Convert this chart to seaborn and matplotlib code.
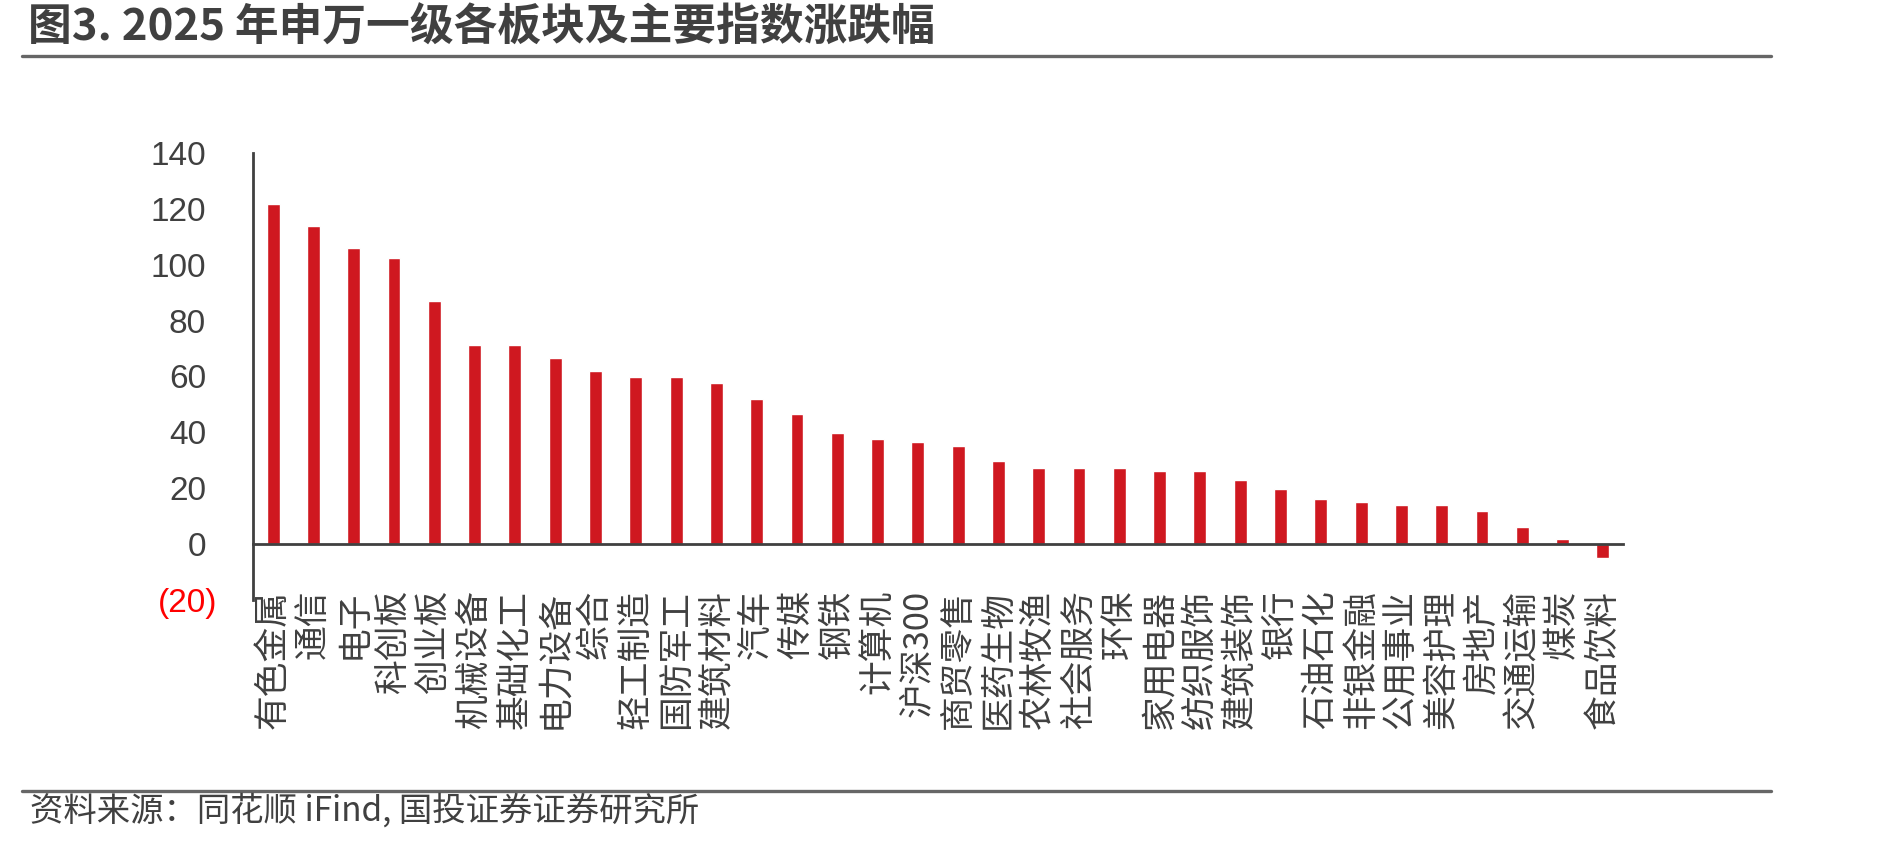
import numpy as np
import pandas as pd
import seaborn as sns
import matplotlib.pyplot as plt
import matplotlib.transforms as mtransforms
from matplotlib.lines import Line2D

# 申万一级行业及主要指数 2025 年涨跌幅（%）
sectors = [
    "有色金属", "通信", "电子", "科创板", "创业板", "机械设备", "基础化工",
    "电力设备", "综合", "轻工制造", "国防军工", "建筑材料", "汽车", "传媒",
    "钢铁", "计算机", "沪深300", "商贸零售", "医药生物", "农林牧渔",
    "社会服务", "环保", "家用电器", "纺织服饰", "建筑装饰", "银行",
    "石油石化", "非银金融", "公用事业", "美容护理", "房地产", "交通运输",
    "煤炭", "食品饮料",
]
changes = [
    121.6, 113.7, 105.9, 102.5, 86.9, 71.2, 71.2,
    66.7, 62.1, 59.8, 59.8, 57.7, 52.0, 46.5,
    39.7, 37.6, 36.4, 35.3, 29.7, 27.4,
    27.4, 27.4, 26.3, 26.3, 23.0, 19.6,
    16.2, 15.1, 14.0, 14.0, 11.7, 6.1,
    1.7, -5.0,
]
y_ticks = [-20, 0, 20, 40, 60, 80, 100, 120, 140]
y_tick_labels = ["(20)", "0", "20", "40", "60", "80", "100", "120", "140"]

title = "图3. 2025 年申万一级各板块及主要指数涨跌幅"
source = "资料来源：同花顺 iFind, 国投证券证券研究所"

BAR_RED = "#CF1820"
AXIS_GREY = "#404040"
RULE_GREY = "#666666"
CJK = ["Noto Sans CJK SC", "DejaVu Sans"]


def draw_chart(df):
    sns.set_theme(style="white")
    plt.rcParams["font.family"] = ["Liberation Sans", "Noto Sans CJK SC"]

    fig = plt.figure(figsize=(18.89, 8.44), dpi=100)
    ax = fig.add_axes([253 / 1889, 1 - 600 / 844, (1623 - 253) / 1889, (600 - 153) / 844])

    sns.barplot(data=df, x="sector", y="change", color=BAR_RED,
                saturation=1, width=0.32, ax=ax)

    ax.set_xlim(-0.5, len(df) - 0.5)
    ax.set_ylim(-20, 140)
    ax.set_xlabel("")
    ax.set_ylabel("")

    # axes lines: x axis sits on zero
    for side in ["top", "right"]:
        ax.spines[side].set_visible(False)
    for side in ["left", "bottom"]:
        ax.spines[side].set_color(AXIS_GREY)
        ax.spines[side].set_linewidth(2.0)
    ax.spines["bottom"].set_position(("data", 0))

    # category labels, ticks between categories
    ax.set_xticks(range(len(df)))
    ax.set_xticklabels(df["sector"], rotation=90, fontsize=25,
                       color=AXIS_GREY, family=CJK)
    ax.set_xticks(np.arange(-0.5, len(df), 1), minor=True)
    ax.tick_params(axis="x", which="major", length=0, pad=33)
    ax.tick_params(axis="x", which="minor", length=8.5, width=2,
                   color=AXIS_GREY, direction="out")

    ax.set_yticks(y_ticks)
    ax.set_yticklabels(y_tick_labels, fontsize=24, color=AXIS_GREY)
    ax.tick_params(axis="y", length=6.5, width=2, color=AXIS_GREY,
                   direction="out", pad=19.4)
    shift = mtransforms.ScaledTranslation(-11 / 100, 0, fig.dpi_scale_trans)
    for lab in ax.get_yticklabels():
        if lab.get_text().startswith("("):
            lab.set_color("#FF0000")
        else:
            lab.set_transform(lab.get_transform() + shift)
    ax.grid(False)

    # title, rules and source note
    fig.text(28 / 1889, 1 - 28 / 844, title, fontsize=31.5, fontweight="bold",
             color=AXIS_GREY, family=CJK, va="center", ha="left")
    fig.add_artist(Line2D([22 / 1889, 1771 / 1889], [1 - 56 / 844] * 2,
                          color=RULE_GREY, lw=2.4))
    fig.add_artist(Line2D([22 / 1889, 1771 / 1889], [1 - 791 / 844] * 2,
                          color=RULE_GREY, lw=2.4))
    fig.text(30 / 1889, 1 - 811 / 844, source, fontsize=24,
             color=AXIS_GREY, family=CJK, va="center", ha="left")

    fig.savefig("out.png", dpi=100, facecolor="white")


def main():
    df = pd.DataFrame({"sector": sectors, "change": changes})
    draw_chart(df)


if __name__ == "__main__":
    main()
